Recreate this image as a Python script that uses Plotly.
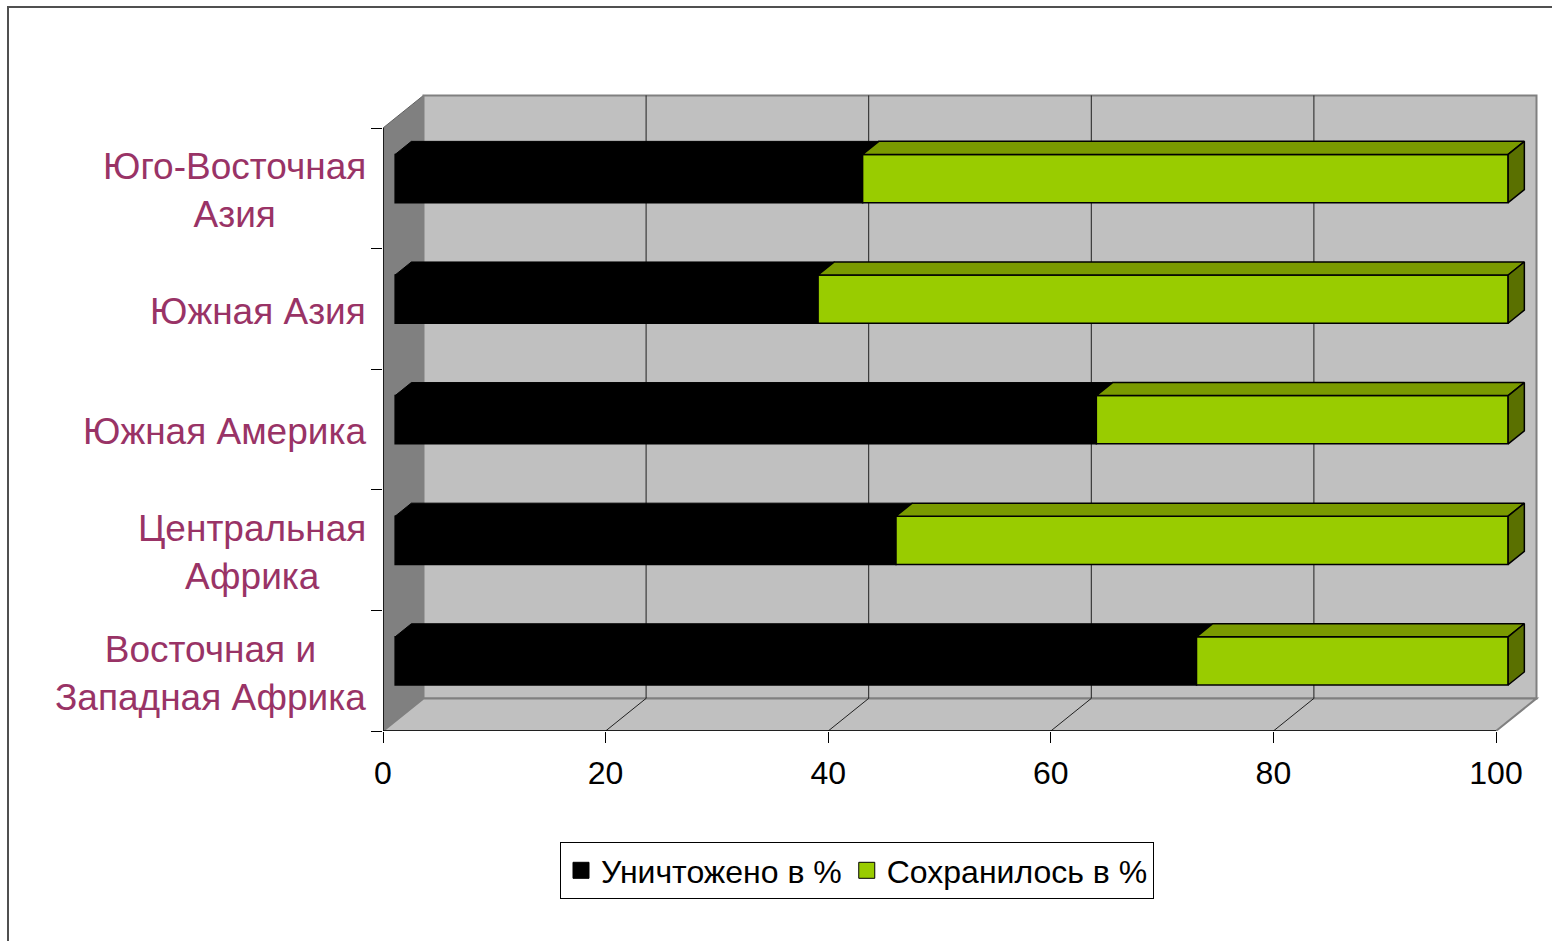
import plotly.graph_objects as go

# ---------------- data ----------------
categories = ["Восточная и<br>Западная Африка", "Центральная<br>Африка",
              "Южная Америка", "Южная Азия", "Юго-Восточная<br>Азия"]
destroyed = [72, 45, 63, 38, 42]          # Уничтожено в %
preserved = [100 - v for v in destroyed]  # Сохранилось в %
x_ticks = [0, 20, 40, 60, 80, 100]
series_names = ["Уничтожено в %", "Сохранилось в %"]

# ---------------- layout geometry (pixels) ----------------
W, H = 1552, 941
L_PX, R_PX, T_PX, B_PX = 383, 1545, 80, 731
PXU = (1496 - 383) / 100.0      # px per value unit
PYU = 120.6                      # px per category band
DX = 40.5 / PXU                  # full depth offset (value units)
DY = 32.6 / PYU                  # full depth offset (category units)
D1, D2 = 0.3, 0.7                # bar depth position
BW = 0.4                         # bar thickness in category units
x_max = (R_PX - L_PX) / PXU
y_min = -0.5
y_max = y_min + (B_PX - T_PX) / PYU
XMAX = x_ticks[-1]

BLACK = "#000000"
GREEN = "#99CC00"
GREEN_TOP = "#7A9A00"
GREEN_SIDE = "#5A7000"
WALL = "#C0C0C0"
SIDE = "#808080"
LABEL = "#993366"
FONT = "Liberation Sans, Arial, sans-serif"

n = len(categories)
idx = list(range(n))
a, e, f = D1 * DX, (D2 - D1) * DX, (D2 - D1) * DY

fig = go.Figure()

# front faces (bars)
fig.add_trace(go.Bar(y=[i + D1 * DY for i in idx], x=destroyed, base=[a] * n,
                     orientation="h", width=BW, showlegend=False,
                     marker=dict(color=BLACK, line=dict(color=BLACK, width=1.5)),
                     hoverinfo="skip"))
fig.add_trace(go.Bar(y=[i + D1 * DY for i in idx], x=preserved,
                     base=[a + d for d in destroyed],
                     orientation="h", width=BW, showlegend=False,
                     marker=dict(color=GREEN, line=dict(color=BLACK, width=1.5)),
                     hoverinfo="skip"))

# top faces and side faces (computed from data)
def top_poly(x0, x1, i):
    yf = i + D1 * DY + BW / 2
    return ([x0 + a, x1 + a, x1 + a + e, x0 + a + e, x0 + a, None],
            [yf, yf, yf + f, yf + f, yf, None])

bx, by, gx, gy, sx, sy = [], [], [], [], [], []
for i in idx:
    px, py = top_poly(0, destroyed[i], i)
    bx += px; by += py
    px, py = top_poly(destroyed[i], destroyed[i] + preserved[i], i)
    gx += px; gy += py
    xe = destroyed[i] + preserved[i] + a
    yb = i + D1 * DY - BW / 2
    sx += [xe, xe, xe + e, xe + e, xe, None]
    sy += [yb, yb + BW, yb + BW + f, yb + f, yb, None]

fig.add_trace(go.Scatter(x=bx, y=by, fill="toself", fillcolor=BLACK, mode="lines",
                         line=dict(color=BLACK, width=1), showlegend=False, hoverinfo="skip"))
fig.add_trace(go.Scatter(x=gx, y=gy, fill="toself", fillcolor=GREEN_TOP, mode="lines",
                         line=dict(color=BLACK, width=1.5), showlegend=False, hoverinfo="skip"))
fig.add_trace(go.Scatter(x=sx, y=sy, fill="toself", fillcolor=GREEN_SIDE, mode="lines",
                         line=dict(color=BLACK, width=1.5), showlegend=False, hoverinfo="skip"))

# legend entries
for name, col in zip(series_names, [BLACK, GREEN]):
    fig.add_trace(go.Scatter(x=[None], y=[None], mode="markers", name=name,
                             marker=dict(symbol="square", size=16, color=col,
                                         line=dict(color=BLACK, width=1))))

# ---------------- walls, floor, grid (shapes below traces) ----------------
shapes = []
yb0, yb1 = y_min, n - 0.5
shapes.append(dict(type="path", layer="below",
                   path=f"M0,{yb0} L0,{yb1} L{DX},{yb1 + DY} L{DX},{yb0 + DY} Z",
                   fillcolor=SIDE, line=dict(color="#606060", width=1)))
shapes.append(dict(type="rect", layer="below", x0=DX, x1=XMAX + DX, y0=yb0 + DY, y1=yb1 + DY,
                   fillcolor=WALL, line=dict(color=SIDE, width=2)))
shapes.append(dict(type="path", layer="below",
                   path=f"M0,{yb0} L{XMAX},{yb0} L{XMAX + DX},{yb0 + DY} L{DX},{yb0 + DY} Z",
                   fillcolor=WALL, line=dict(color=SIDE, width=2)))
for v in x_ticks[1:-1]:
    shapes.append(dict(type="line", layer="below", x0=v + DX, x1=v + DX,
                       y0=yb0 + DY, y1=yb1 + DY, line=dict(color="#202020", width=1)))
    shapes.append(dict(type="line", layer="below", x0=v, x1=v + DX,
                       y0=yb0, y1=yb0 + DY, line=dict(color="#202020", width=1)))
# axis lines
shapes.append(dict(type="line", layer="below", x0=0, x1=0, y0=yb0, y1=yb1,
                   line=dict(color=BLACK, width=1.5)))
shapes.append(dict(type="line", layer="below", x0=0, x1=XMAX, y0=yb0, y1=yb0,
                   line=dict(color=BLACK, width=1.5)))
# outer chart border
pw, ph = R_PX - L_PX, B_PX - T_PX
shapes.append(dict(type="rect", xref="paper", yref="paper",
                   x0=(8 - L_PX) / pw, x1=(W + 10 - L_PX) / pw,
                   y0=(B_PX - 7) / ph, y1=(B_PX - H - 10) / ph,
                   line=dict(color="#505050", width=2)))

# category labels
annotations = []
for i, c in enumerate(categories):
    annotations.append(dict(x=-15 / pw, y=i - 0.02, xref="paper", yref="y", text=c,
                            showarrow=False, xanchor="right", yanchor="middle",
                            align="center", font=dict(family=FONT, size=37, color=LABEL)))

fig.update_layout(
    width=W, height=H,
    margin=dict(l=L_PX, r=W - R_PX, t=T_PX, b=H - B_PX, pad=0),
    paper_bgcolor="white", plot_bgcolor="white",
    barmode="overlay",
    shapes=shapes, annotations=annotations,
    xaxis=dict(range=[0, x_max], tickvals=x_ticks, ticks="outside", ticklen=11,
               tickcolor=BLACK, tickwidth=1, showgrid=False, zeroline=False,
               showline=False, tickfont=dict(family=FONT, size=32, color=BLACK),
               ticklabelstandoff=3, fixedrange=True),
    yaxis=dict(range=[y_min, y_max], tickvals=[k - 0.5 for k in range(n + 1)],
               ticks="outside", ticklen=11, tickcolor=BLACK, tickwidth=1,
               showticklabels=False, showgrid=False, zeroline=False, showline=False,
               fixedrange=True),
    legend=dict(orientation="h", x=(857 - L_PX) / pw, xanchor="center",
                y=(B_PX - 842) / ph, yanchor="top", bgcolor="white",
                bordercolor=BLACK, borderwidth=1,
                font=dict(family=FONT, size=32, color=BLACK)),
    showlegend=True,
)

fig.write_html("out.html", config={"displayModeBar": False},
               post_script="document.body.style.margin='0px';")
